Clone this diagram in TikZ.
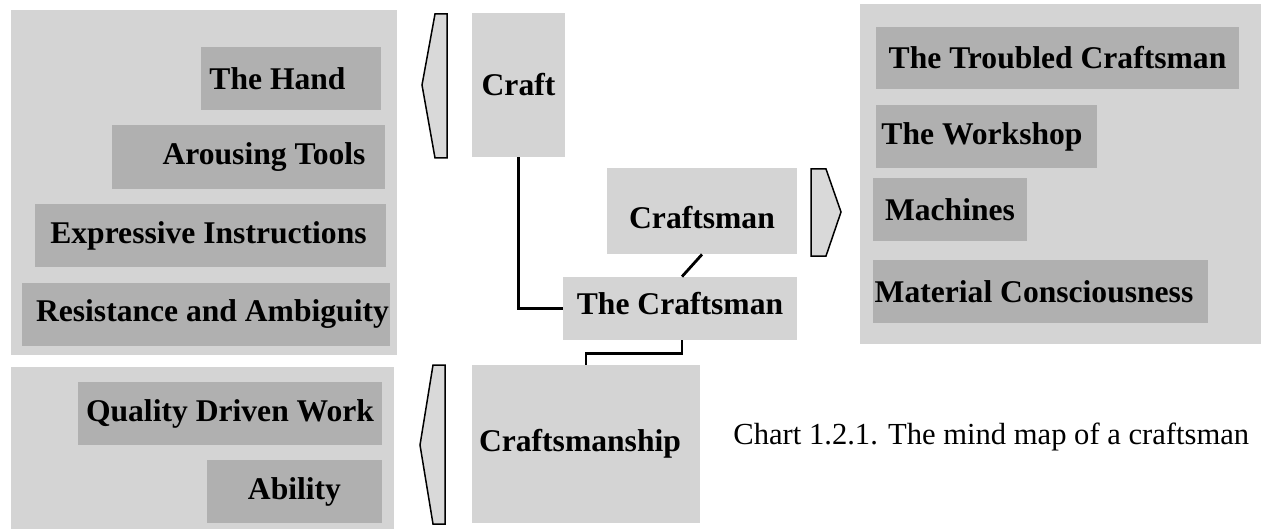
\documentclass[tikz,border=0pt]{standalone}
\usepackage{fontspec}
\setmainfont{Liberation Serif}
\usetikzlibrary{calc}
\definecolor{panelgray}{RGB}{212,212,212}
\definecolor{itemgray}{RGB}{176,176,176}
\definecolor{brkgray}{RGB}{217,217,217}
\begin{document}
\begin{tikzpicture}[x=0.5pt,y=-0.5pt,
  boxbase/.style={rectangle, inner sep=0pt, text=black,
    font=\fontsize{15.8}{18}\selectfont\bfseries},
  itembox/.style={boxbase, fill=itemgray},
  hubbox/.style={boxbase, fill=panelgray},
  panel/.style={fill=panelgray, draw=none},
  bracket/.style={draw=black, line width=0.75pt, fill=brkgray, line join=miter},
  link/.style={draw=black, line width=1.4pt}]
\useasboundingbox (0,0) rectangle (1261,529);

% panels
\fill[panel] (11,10) rectangle (397,355);
\fill[panel] (11,367) rectangle (394,529);
\fill[panel] (860,4) rectangle (1261,344);

% left items
\node[itembox, minimum width=90pt, minimum height=31.5pt] (hand) at (291,78.5) {The Hand\hspace*{13.5pt}};
\node[itembox, minimum width=136.5pt, minimum height=32pt] (tools) at (248.5,157) {\hspace*{15.5pt}Arousing Tools};
\node[itembox, minimum width=175.5pt, minimum height=31.5pt] (expr) at (210.5,235.5) {Expressive Instructions\hspace*{2pt}};
\node[itembox, minimum width=184pt, minimum height=31.5pt] (resist) at (206,314.5) {\hspace*{6.5pt}Resistance and Ambiguity};
\node[itembox, minimum width=152pt, minimum height=31.5pt] (quality) at (230,413.5) {Quality Driven Work};
\node[itembox, minimum width=87.5pt, minimum height=31.5pt] (ability) at (294.5,491.5) {Ability};

% right items
\node[itembox, minimum width=181.5pt, minimum height=31pt] (troubled) at (1057.5,58) {The Troubled Craftsman};
\node[itembox, minimum width=110.5pt, minimum height=31.5pt] (workshop) at (986.5,136.5) {The Workshop\hspace*{4.5pt}};
\node[itembox, minimum width=77pt, minimum height=31.5pt] (machines) at (950,209.5) {Machines};
\node[itembox, minimum width=167.5pt, minimum height=31.5pt] (material) at (1040.5,291.5) {Material Consciousness\hspace*{6.5pt}};

% hubs
\node[hubbox, minimum width=46.5pt, minimum height=72pt] (craft) at (518.5,85) {Craft};
\node[hubbox, minimum width=95pt, minimum height=43pt, text height=17.6pt] (craftsman) at (702,211) {Craftsman};
\node[hubbox, minimum width=117pt, minimum height=31.5pt, text depth=5pt] (thecraftsman) at (680,308.5) {The Craftsman};
\node[hubbox, minimum width=114pt, minimum height=79pt] (craftsmanship) at (586,444) {Craftsmanship\hspace*{6pt}};

% brackets
\draw[bracket] (447,14) -- (435,14) -- (422,85) -- (435,158) -- (447,158) -- cycle;
\draw[bracket] (811,169) -- (826,169) -- (841,212) -- (826,256) -- (811,256) -- cycle;
\draw[bracket] (445,365) -- (433,365) -- (420,445) -- (433,524) -- (445,524) -- cycle;

% connectors
\draw[link] (craft.south) |- (thecraftsman.west);
\draw[link] (craftsman.south) -- ([xshift=1pt]thecraftsman.north);
\draw[link] ([xshift=1pt]thecraftsman.south) -- ++(0,13) -| (craftsmanship.north);

% caption
\node[anchor=base west, inner sep=0pt, font=\fontsize{15.3}{18}\selectfont] (caption) at (733,444) {Chart 1.2.1. The mind map of a craftsman};
\end{tikzpicture}
\end{document}
